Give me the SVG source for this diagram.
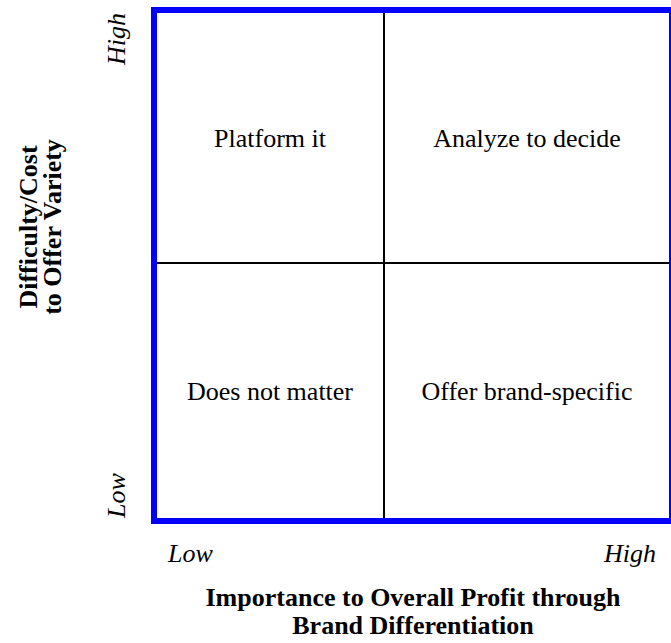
<svg xmlns="http://www.w3.org/2000/svg" width="671" height="643" viewBox="0 0 671 643">
<style>
.q{font-family:"Liberation Serif","Times New Roman",serif;font-size:26px;fill:#000;text-anchor:middle}
.ax{font-family:"Liberation Serif","Times New Roman",serif;font-size:26px;font-style:italic;fill:#000}
.tt{font-family:"Liberation Serif","Times New Roman",serif;font-size:26px;font-weight:bold;fill:#000;text-anchor:middle}
.div{stroke:#000;stroke-width:2;fill:none}
</style>
<rect x="0" y="0" width="671" height="643" fill="#fff"/>
<g id="frame">
<rect x="154" y="10" width="518" height="511" fill="none" stroke="#0000ff" stroke-width="6"/>
</g>
<g id="connectors">
<line class="div" x1="384" y1="13" x2="384" y2="518"/>
<line class="div" x1="157" y1="263" x2="669" y2="263"/>
</g>
<g id="q-platform"><text class="q" x="270" y="147">Platform it</text></g>
<g id="q-analyze"><text class="q" x="527" y="147">Analyze to decide</text></g>
<g id="q-doesnot"><text class="q" x="270" y="400">Does not matter</text></g>
<g id="q-offer"><text class="q" x="527" y="400">Offer brand-specific</text></g>
<g id="y-axis">
<text class="ax" transform="translate(125,13) rotate(-90)" text-anchor="end">High</text>
<text class="ax" transform="translate(125,518) rotate(-90)" text-anchor="start">Low</text>
<text class="tt" transform="translate(37,227) rotate(-90)">Difficulty/Cost</text>
<text class="tt" transform="translate(61,227) rotate(-90)">to Offer Variety</text>
</g>
<g id="x-axis">
<text class="ax" x="168" y="562" text-anchor="start">Low</text>
<text class="ax" x="656" y="562" text-anchor="end">High</text>
<text class="tt" x="413" y="606">Importance to Overall Profit through</text>
<text class="tt" x="413" y="634">Brand Differentiation</text>
</g>
</svg>
